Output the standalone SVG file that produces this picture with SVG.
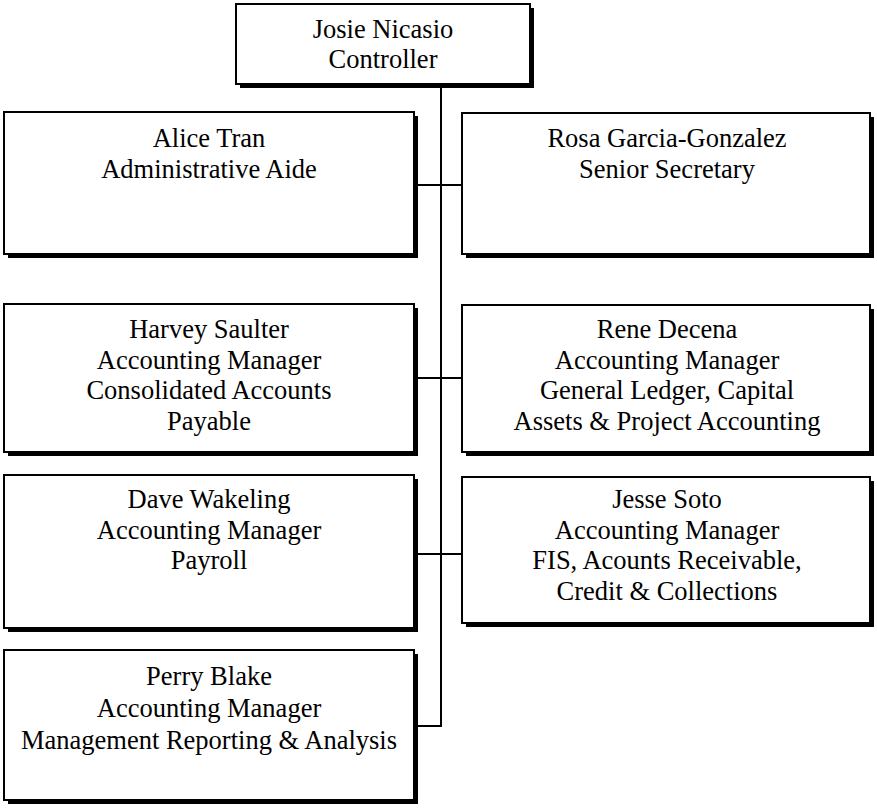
<svg xmlns="http://www.w3.org/2000/svg" width="877" height="809" viewBox="0 0 877 809">
<defs>
<style>
.sh{fill:#000}
.bx{fill:#fff;stroke:#000;stroke-width:2}
text{font-family:"Liberation Serif","Times New Roman",serif;font-size:26.5px;fill:#000;text-anchor:middle}
.cn{stroke:#000;stroke-width:2;fill:none}
</style>
</defs>
<rect width="877" height="809" fill="#fff"/>
<g id="connectors">
<line class="cn" x1="441" y1="84" x2="441" y2="727"/>
<line class="cn" x1="418" y1="185" x2="462" y2="185"/>
<line class="cn" x1="418" y1="378" x2="462" y2="378"/>
<line class="cn" x1="418" y1="554" x2="462" y2="554"/>
<line class="cn" x1="418" y1="726" x2="441" y2="726"/>
</g>
<g id="josie">
<rect class="sh" x="240" y="8" width="294" height="80"/>
<rect class="bx" x="236" y="4" width="294" height="80"/>
<text x="383" y="38">Josie Nicasio</text>
<text x="383" y="68">Controller</text>
</g>
<g id="alice">
<rect class="sh" x="8" y="116" width="410" height="142"/>
<rect class="bx" x="4" y="112" width="410" height="142"/>
<text x="209" y="147">Alice Tran</text>
<text x="209" y="178">Administrative Aide</text>
</g>
<g id="rosa">
<rect class="sh" x="466" y="117" width="408" height="141"/>
<rect class="bx" x="462" y="113" width="408" height="141"/>
<text x="667" y="147">Rosa Garcia-Gonzalez</text>
<text x="667" y="178">Senior Secretary</text>
</g>
<g id="harvey">
<rect class="sh" x="8" y="308" width="410" height="148"/>
<rect class="bx" x="4" y="304" width="410" height="148"/>
<text x="209" y="338">Harvey Saulter</text>
<text x="209" y="369">Accounting Manager</text>
<text x="209" y="399">Consolidated Accounts</text>
<text x="209" y="430">Payable</text>
</g>
<g id="rene">
<rect class="sh" x="466" y="309" width="408" height="147"/>
<rect class="bx" x="462" y="305" width="408" height="147"/>
<text x="667" y="338">Rene Decena</text>
<text x="667" y="369">Accounting Manager</text>
<text x="667" y="399">General Ledger, Capital</text>
<text x="667" y="430">Assets &amp; Project Accounting</text>
</g>
<g id="dave">
<rect class="sh" x="8" y="479" width="410" height="153"/>
<rect class="bx" x="4" y="475" width="410" height="153"/>
<text x="209" y="508">Dave Wakeling</text>
<text x="209" y="539">Accounting Manager</text>
<text x="209" y="569">Payroll</text>
</g>
<g id="jesse">
<rect class="sh" x="466" y="481" width="408" height="146"/>
<rect class="bx" x="462" y="477" width="408" height="146"/>
<text x="667" y="508">Jesse Soto</text>
<text x="667" y="539">Accounting Manager</text>
<text x="667" y="569">FIS, Acounts Receivable,</text>
<text x="667" y="600">Credit &amp; Collections</text>
</g>
<g id="perry">
<rect class="sh" x="8" y="654" width="410" height="150"/>
<rect class="bx" x="4" y="650" width="410" height="150"/>
<text x="209" y="685">Perry Blake</text>
<text x="209" y="717">Accounting Manager</text>
<text x="209" y="749">Management Reporting &amp; Analysis</text>
</g>
</svg>
